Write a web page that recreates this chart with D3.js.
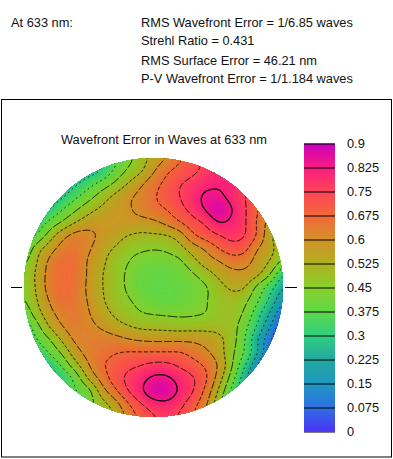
<!DOCTYPE html>
<html>
<head>
<meta charset="utf-8">
<script src="https://cdnjs.cloudflare.com/ajax/libs/d3/7.8.5/d3.min.js"></script>
<style>
body { margin: 0; background: #fff; }
text { font-family: "Liberation Sans", Arial, sans-serif; font-size: 12.8px; fill: #111; }
</style>
</head>
<body>
<svg id="chart" width="393" height="459"></svg>
<script>
// header text
var headerLeft = "At 633 nm:";
var headerLines = [
    "RMS Wavefront Error = 1/6.85 waves",
    "Strehl Ratio = 0.431",
    "RMS Surface Error = 46.21 nm",
    "P-V Wavefront Error = 1/1.184 waves"
];
var title = "Wavefront Error in Waves at 633 nm";

// colour bar
var levels = [0, 0.075, 0.15, 0.225, 0.3, 0.375, 0.45, 0.525, 0.6, 0.675, 0.75, 0.825, 0.9];
var levelLabels = ["0", "0.075", "0.15", "0.225", "0.3", "0.375", "0.45", "0.525", "0.6", "0.675", "0.75", "0.825", "0.9"];
var levelColors = ["#4a34f4", "#2f70e0", "#1f98c0", "#22a8a0", "#30d080", "#60d848", "#88d02c", "#b0b020", "#d49028", "#f2683a", "#ff4458", "#f81c80", "#c800c0"];

// wavefront error in waves on a 21 x 21 grid (rows top to bottom)
var waveRows = [
    [.20,.20,.20,.21,.22,.25,.30,.35,.42,.49,.55,.60,.66,.72,.77,.79,.77,.72,.66,.58,.50],
    [.22,.22,.22,.22,.23,.26,.30,.385,.46,.51,.59,.66,.70,.735,.765,.80,.81,.77,.70,.62,.54],
    [.23,.23,.23,.24,.285,.345,.40,.46,.525,.585,.645,.695,.745,.77,.80,.815,.81,.775,.71,.63,.55],
    [.22,.22,.24,.29,.36,.42,.485,.54,.585,.62,.665,.71,.75,.79,.84,.84,.80,.755,.69,.61,.53],
    [.25,.26,.30,.375,.44,.50,.54,.57,.59,.62,.65,.675,.725,.775,.83,.88,.83,.76,.68,.60,.52],
    [.29,.31,.395,.46,.525,.565,.58,.585,.58,.575,.585,.62,.67,.72,.76,.825,.81,.76,.665,.56,.48],
    [.33,.38,.485,.575,.625,.62,.585,.56,.525,.51,.515,.52,.56,.66,.71,.745,.775,.755,.665,.54,.45],
    [.37,.49,.565,.63,.65,.61,.56,.52,.48,.465,.455,.465,.50,.56,.61,.675,.715,.70,.60,.55,.47],
    [.43,.52,.615,.665,.66,.59,.545,.485,.455,.42,.41,.415,.435,.50,.56,.595,.635,.63,.57,.52,.43],
    [.47,.535,.63,.672,.655,.59,.53,.485,.44,.40,.39,.39,.405,.44,.49,.54,.575,.58,.54,.45,.29],
    [.445,.535,.63,.672,.65,.585,.53,.487,.44,.395,.38,.38,.39,.41,.44,.50,.535,.53,.425,.33,.22],
    [.44,.52,.605,.665,.64,.595,.535,.495,.46,.425,.395,.385,.395,.415,.445,.48,.50,.47,.385,.28,.16],
    [.39,.49,.575,.63,.645,.605,.555,.515,.485,.455,.445,.44,.435,.44,.45,.48,.49,.44,.33,.215,.08],
    [.32,.42,.53,.60,.635,.62,.59,.555,.53,.51,.505,.50,.495,.495,.50,.50,.485,.40,.29,.15,0],
    [.27,.375,.445,.54,.615,.63,.635,.625,.605,.59,.585,.585,.585,.585,.57,.545,.485,.38,.23,.08,0],
    [.20,.30,.385,.465,.57,.625,.65,.67,.68,.68,.68,.68,.68,.65,.615,.56,.47,.37,.23,.06,0],
    [.15,.22,.295,.39,.495,.595,.665,.70,.73,.75,.77,.77,.74,.705,.665,.595,.46,.31,.15,0,0],
    [.15,.20,.25,.31,.40,.535,.625,.71,.765,.80,.84,.84,.80,.76,.69,.565,.415,.25,.10,0,0],
    [.15,.20,.27,.33,.37,.42,.56,.65,.745,.81,.87,.87,.815,.755,.655,.515,.36,.22,.08,0,0],
    [.15,.20,.27,.33,.37,.42,.49,.56,.66,.74,.79,.805,.77,.705,.615,.47,.32,.20,.08,0,0],
    [.15,.20,.27,.33,.36,.40,.46,.52,.62,.69,.74,.765,.74,.68,.58,.44,.30,.18,.08,0,0]
];

var svg = d3.select("#chart");

var cx = 153.5, cy = 287.5, radius = 129.5;
var gridStep = 13;   // upsampling factor, 1 px per sample

// catmull-rom between grid nodes so the contours come out smooth
function cubic(p0, p1, p2, p3, t) {
    return 0.5 * (2 * p1 + (p2 - p0) * t + (2 * p0 - 5 * p1 + 4 * p2 - p3) * t * t + (3 * p1 - p0 - 3 * p2 + p3) * t * t * t);
}
var nRows = waveRows.length, nCols = waveRows[0].length;
function sampleRow(row, x) {
    var i = Math.min(Math.floor(x), nCols - 2), t = x - i;
    var r = waveRows[row];
    return cubic(r[Math.max(i - 1, 0)], r[i], r[i + 1], r[Math.min(i + 2, nCols - 1)], t);
}
var size = (nCols - 1) * gridStep + 1;
var field = new Float64Array(size * size);
for (var j = 0; j < size; j++) {
    var gy = j / gridStep;
    var k = Math.min(Math.floor(gy), nRows - 2), ty = gy - k;
    for (var i = 0; i < size; i++) {
        var gx = i / gridStep;
        field[j * size + i] = cubic(
            sampleRow(Math.max(k - 1, 0), gx), sampleRow(k, gx),
            sampleRow(k + 1, gx), sampleRow(Math.min(k + 2, nRows - 1), gx), ty);
    }
}
// take the grid-size lumps out of the hand read values
d3.blur2({data: field, width: size, height: size}, 3);

var color = d3.scaleLinear().domain(levels).range(levelColors).clamp(true);

var defs = svg.append("defs");
defs.append("clipPath").attr("id", "disc")
    .append("circle").attr("cx", cx).attr("cy", cy).attr("r", radius);

// outer frame
svg.append("rect")
    .attr("x", 1.5).attr("y", 99.5).attr("width", 390).attr("height", 357.5)
    .attr("fill", "none").attr("stroke", "#000").attr("stroke-width", 1);

// header
svg.append("text").attr("x", 11).attr("y", 27).text(headerLeft);
var headerBase = [27, 45, 65, 83];
svg.selectAll(".head").data(headerLines).enter().append("text")
    .attr("class", "head").attr("x", 141)
    .attr("y", function (d, i) { return headerBase[i]; })
    .text(function (d) { return d; });
svg.append("text").attr("x", 61).attr("y", 144).text(title);

// filled map
var offset = [cx - (size - 1) / 2 - 0.5, cy - (size - 1) / 2 - 0.5];
var contours = d3.contours().size([size, size]);
var path = d3.geoPath();
var map = svg.append("g").attr("clip-path", "url(#disc)");
map.append("circle").attr("cx", cx).attr("cy", cy).attr("r", radius).attr("fill", color(0));
var inner = map.append("g").attr("transform", "translate(" + offset[0] + "," + offset[1] + ")");

var fillSteps = d3.range(0, 0.905, 0.005);
inner.selectAll(".band")
    .data(contours.thresholds(fillSteps)(field))
    .enter().append("path")
    .attr("class", "band")
    .attr("d", path)
    .attr("fill", function (d) { return color(d.value); })
    .attr("stroke", function (d) { return color(d.value); })
    .attr("stroke-width", 0.3);

// contour lines, dash gets finer towards the low end like the original plot
function dash(v) {
    if (v >= 0.8) return null;
    if (v >= 0.74) return "7 2";
    if (v >= 0.66) return "4 2";
    if (v >= 0.59) return "8 2";
    if (v >= 0.5) return "3 2";
    if (v >= 0.44) return "10 2";
    return "1.5 3.5";
}
inner.selectAll(".line")
    .data(contours.thresholds(levels.slice(1, -1))(field))
    .enter().append("path")
    .attr("class", "line")
    .attr("d", path)
    .attr("fill", "none")
    .attr("stroke", "#000")
    .attr("stroke-width", function (d) { return d.value >= 0.8 ? 1.25 : 0.9; })
    .attr("stroke-dasharray", function (d) { return dash(d.value); });

// centre ticks either side of the disc
svg.selectAll(".side").data([[11, 22], [285, 297]]).enter().append("line")
    .attr("class", "side")
    .attr("x1", function (d) { return d[0]; }).attr("x2", function (d) { return d[1]; })
    .attr("y1", 287.5).attr("y2", 287.5)
    .attr("stroke", "#000");

// colour bar
var barX = 304, barW = 31;
var barY = d3.scaleLinear().domain([0, 0.9]).range([431.5, 143.5]);
var grad = defs.append("linearGradient").attr("id", "barGrad")
    .attr("x1", 0).attr("x2", 0).attr("y1", 1).attr("y2", 0);
grad.selectAll("stop").data(levels).enter().append("stop")
    .attr("offset", function (d) { return d / 0.9; })
    .attr("stop-color", function (d) { return color(d); });
svg.append("rect")
    .attr("x", barX).attr("width", barW)
    .attr("y", barY(0.9)).attr("height", barY(0) - barY(0.9))
    .attr("fill", "url(#barGrad)");

var barAxis = d3.axisRight(barY)
    .tickValues(levels)
    .tickFormat(function (d, i) { return levelLabels[i]; })
    .tickSize(-barW)
    .tickPadding(12);
var axisG = svg.append("g").attr("transform", "translate(" + (barX + barW) + ",0)").call(barAxis);
axisG.attr("font-family", null).attr("font-size", null);
axisG.select(".domain").remove();
axisG.selectAll("line").attr("stroke", "#000");
</script>
</body>
</html>
